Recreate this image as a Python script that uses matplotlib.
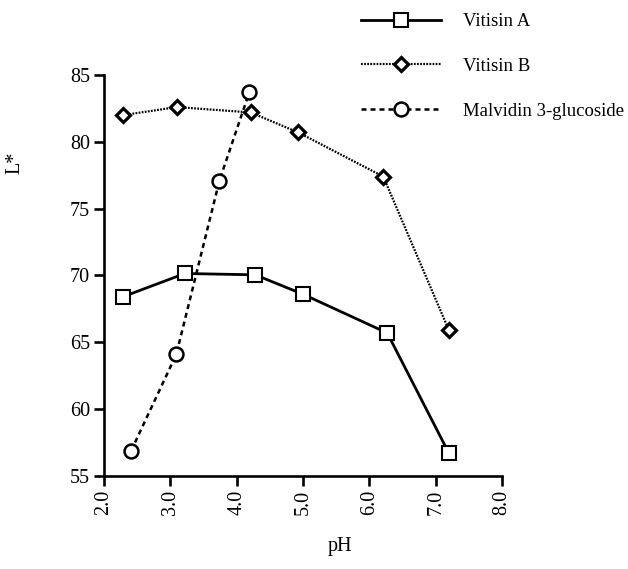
import matplotlib
matplotlib.use('Agg')
import matplotlib.pyplot as plt
import numpy as np

plt.rcParams['font.family'] = ['Liberation Serif', 'DejaVu Serif']
plt.rcParams['font.size'] = 14.5

# L* vs pH
vitA_ph = [2.28, 3.22, 4.28, 5.00, 6.27, 7.20]
vitA_L = [68.4, 70.15, 70.05, 68.6, 65.7, 56.7]

vitB_ph = [2.29, 3.10, 4.21, 4.93, 6.21, 7.20]
vitB_L = [82.0, 82.6, 82.2, 80.7, 77.4, 65.9]

mal_ph = [2.41, 3.09, 3.74, 4.19]
mal_L = [56.9, 64.1, 77.1, 83.7]

xticks = [2.0, 3.0, 4.0, 5.0, 6.0, 7.0, 8.0]
yticks = [55, 60, 65, 70, 75, 80, 85]

fig = plt.figure(figsize=(6.28, 5.69), dpi=100)
ax = fig.add_axes([104/628, 1-476/569, 398/628, 401/569])

ax.plot(vitA_ph, vitA_L, color='black', linestyle='-', linewidth=2.0,
        marker='s', markersize=10, markerfacecolor='white',
        markeredgecolor='black', markeredgewidth=1.5, clip_on=False,
        label='Vitisin A')
ax.plot(vitB_ph, vitB_L, color='black', linestyle=(0, (0.8, 0.6)), linewidth=1.6,
        marker='D', markersize=7, markerfacecolor='white',
        markeredgecolor='black', markeredgewidth=2.3, clip_on=False,
        label='Vitisin B')
ax.plot(mal_ph, mal_L, color='black', linestyle=(0, (2.0, 1.6)), linewidth=1.8,
        marker='o', markersize=10, markerfacecolor='white',
        markeredgecolor='black', markeredgewidth=1.8, clip_on=False,
        label='Malvidin 3-glucoside')

ax.set_xlim(2, 8)
ax.set_ylim(55, 85)
ax.set_xticks(xticks)
ax.set_xticklabels(['%.1f' % t for t in xticks], rotation=90)
ax.set_yticks(yticks)

for s in ['top', 'right']:
    ax.spines[s].set_visible(False)
for s in ['left', 'bottom']:
    ax.spines[s].set_linewidth(1.9)
ax.tick_params(direction='out', length=7, width=1.9, pad=3)

ax.set_xlabel('pH')
ax.xaxis.set_label_coords(0.593, -0.152)
ax.set_ylabel('L*')
ax.yaxis.set_label_coords(-0.2, 0.78)

fig.legend(loc='upper left', bbox_to_anchor=(361/628, 1-13/569),
           frameon=False, borderpad=0, borderaxespad=0, numpoints=1,
           fontsize=13.5, handlelength=4.25, handletextpad=1.17,
           labelspacing=1.48)

fig.savefig('out.png', dpi=100)
